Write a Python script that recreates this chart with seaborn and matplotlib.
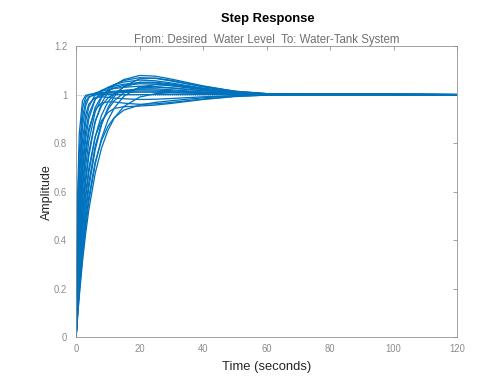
import numpy as np
import pandas as pd
import matplotlib
matplotlib.use('Agg')
import matplotlib.pyplot as plt
import seaborn as sns

# time samples (seconds)
TIME = [0, 0.5, 1, 2, 3, 4, 6, 8, 10, 12, 15, 20, 25, 30, 40, 50, 60, 120]

# step responses, one list per curve
R01 = [0, .597, .838, .974, .997, 1.0, 1.003, 1.004, 1.006, 1.007, 1.009, 1.01, 1.01, 1.008, 1.005, 1.002, 1.001, 1.0]
R02 = [0, .51, .76, .944, .988, 1.0, 1.005, 1.008, 1.011, 1.014, 1.017, 1.02, 1.019, 1.016, 1.009, 1.004, 1.001, 1.0]
R03 = [0, .445, .692, .905, .971, .991, .999, 1, 1, 1, 1, 1, 1, 1, 1, 1, 1, 1]
R04 = [0, .393, .632, .866, .953, .987, 1.007, 1.015, 1.02, 1.025, 1.03, 1.035, 1.033, 1.028, 1.016, 1.006, 1.002, 1.0]
R05 = [0, .341, .565, .81, .916, .961, .988, .991, .989, .986, .983, .98, .981, .984, .991, .996, .999, 1.0]
R06 = [0, .3, .511, .762, .887, .95, 1.0, 1.018, 1.028, 1.035, 1.043, 1.05, 1.048, 1.04, 1.023, 1.009, 1.003, 1.0]
R07 = [0, .268, .465, .714, .848, .92, .981, .999, 1.007, 1.011, 1.013, 1.015, 1.014, 1.012, 1.007, 1.003, 1.001, 1.0]
R08 = [0, .243, .427, .673, .816, .9, .98, 1.013, 1.03, 1.041, 1.052, 1.06, 1.057, 1.048, 1.027, 1.011, 1.003, 1.0]
R09 = [0, .221, .393, .63, .774, .86, .939, .965, .97, .97, .965, .96, .962, .968, .982, .993, .998, 1.0]
R10 = [0, .203, .365, .599, .748, .844, .947, .993, 1.015, 1.028, 1.038, 1.045, 1.043, 1.036, 1.02, 1.008, 1.002, 1.0]
R11 = [0, .181, .331, .554, .705, .807, .928, .988, 1.022, 1.041, 1.058, 1.07, 1.067, 1.056, 1.032, 1.013, 1.004, 1.0]
R12 = [0, .164, .3, .511, .659, .763, .89, .954, .986, 1.004, 1.017, 1.024, 1.024, 1.02, 1.011, 1.005, 1.001, 1.0]
R13 = [0, .154, .284, .49, .638, .746, .887, .964, 1.01, 1.038, 1.062, 1.079, 1.076, 1.064, 1.036, 1.014, 1.004, 1.0]
R14 = [0, .141, .261, .452, .593, .696, .826, .892, .926, .943, .95, .953, .957, .964, .98, .992, .998, 1.0]
R15 = [0, .13, .244, .428, .569, .678, .826, .915, .969, 1.003, 1.031, 1.051, 1.051, 1.044, 1.025, 1.01, 1.003, 1.0]
R16 = [0, .118, .221, .394, .531, .637, .787, .88, .938, .975, 1.007, 1.028, 1.031, 1.027, 1.016, 1.006, 1.002, 1.0]
R17 = [0, .11, .209, .375, .508, .615, .772, .876, .945, .992, 1.034, 1.065, 1.068, 1.059, 1.034, 1.014, 1.004, 1.0]
R18 = [0, .103, .195, .352, .477, .577, .721, .811, .869, .905, .936, .957, .968, .975, .987, .995, .999, 1.0]
R19 = [0, .095, .182, .332, .455, .558, .713, .819, .894, .944, .993, 1.032, 1.041, 1.038, 1.023, 1.009, 1.003, 1.0]
R20 = [0, .088, .169, .311, .427, .525, .675, .779, .852, .903, .951, .99, 1.004, 1.008, 1.006, 1.003, 1.001, 1.0]

CURVES = [R01, R02, R03, R04, R05, R06, R07, R08, R09, R10,
          R11, R12, R13, R14, R15, R16, R17, R18, R19, R20]

X_TICKS = [0, 20, 40, 60, 80, 100, 120]
Y_TICKS = [0, 0.2, 0.4, 0.6, 0.8, 1, 1.2]
Y_TICK_LABELS = ['0', '0.2', '0.4', '0.6', '0.8', '1', '1.2']

LINE_COLOR = '#0072BD'
GREY = '#8c8c8c'

sns.set_style('white')
plt.rcParams['font.family'] = ['Liberation Sans', 'DejaVu Sans']

# long-form table
rows = []
for i, amp in enumerate(CURVES):
    for t, a in zip(TIME, amp):
        rows.append({'curve': i, 't': t, 'amp': a})
df = pd.DataFrame(rows)

fig = plt.figure(figsize=(7.0, 5.25), dpi=72)
ax = fig.add_axes([0.151, 0.108, 0.756, 0.770])

# steady-state line
ax.axhline(1, color=GREY, linestyle=':', linewidth=0.8, zorder=1)

sns.lineplot(data=df, x='t', y='amp', units='curve', estimator=None,
             color=LINE_COLOR, linewidth=1.3, ax=ax, zorder=2)

ax.set_xlim(0, 120)
ax.set_ylim(0, 1.2)
ax.set_xticks(X_TICKS)
ax.set_yticks(Y_TICKS)
ax.set_yticklabels(Y_TICK_LABELS)
ax.tick_params(direction='in', length=4, width=0.8, colors=GREY,
               labelsize=9.5, top=True, right=True)
ax.tick_params(axis='x', pad=7)
ax.tick_params(axis='y', pad=9)
for s in ax.spines.values():
    s.set_color(GREY)
    s.set_linewidth(0.8)

ax.set_xlabel('Time (seconds)', fontsize=13, color='#262626', labelpad=7)
ax.set_ylabel('Amplitude', fontsize=12.5, color='#262626', labelpad=1)

fig.text(0.532, 0.950, 'Step Response', ha='center', va='center',
         fontsize=13, fontweight='bold', color='black')
ax.set_title('From: Desired  Water Level  To: Water-Tank System',
             fontsize=11.5, color='#707070', pad=3)

fig.savefig('out.png', dpi=72)
